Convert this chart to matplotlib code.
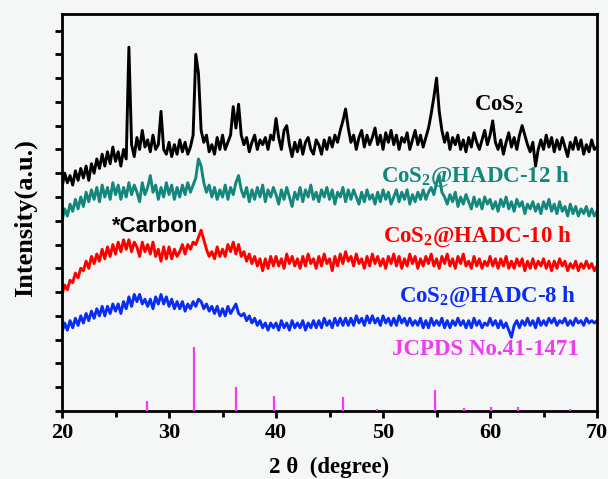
import numpy as np
import matplotlib.pyplot as plt

plt.rcParams['mathtext.fontset'] = 'custom'
plt.rcParams['mathtext.rm'] = 'Liberation Serif:bold'
plt.rcParams['mathtext.bf'] = 'Liberation Serif:bold'

# 2theta grid, 0.25 degree steps from 20 to 70
two_theta = np.arange(20, 70.001, 0.25)

# stacked intensities (a.u.)
cos2 = [
    9.4, 10.0, 9.6, 9.9, 9.5, 10.1, 9.7, 10.2, 9.8, 10.3, 9.7, 10.4,
    10.0, 10.6, 10.2, 10.8, 10.3, 10.9, 10.4, 11.1, 10.5, 10.9, 10.3, 11.0,
    10.6, 15.3, 11.2, 10.7, 11.5, 11.0, 11.8, 11.1, 11.4, 10.9, 11.6, 11.0,
    11.2, 12.6, 11.0, 10.8, 11.3, 10.7, 11.2, 10.8, 11.4, 10.9, 11.3, 10.8,
    11.1, 11.6, 15.0, 14.2, 11.8, 11.3, 11.6, 10.9, 11.2, 10.8, 11.5, 11.0,
    11.6, 11.0, 11.3, 11.6, 12.8, 11.9, 12.9, 11.6, 11.2, 11.5, 10.9, 11.3,
    11.6, 11.0, 11.4, 11.2, 11.5, 11.0, 11.6, 11.4, 12.3, 11.5, 11.0, 11.8,
    12.0, 11.2, 10.7, 11.3, 10.9, 11.4, 10.8, 11.3, 11.5, 11.0, 10.8, 11.4,
    11.2, 10.8, 11.4, 11.0, 11.5, 11.1, 11.6, 11.3, 11.8, 12.2, 12.7, 11.9,
    11.3, 11.6, 11.0, 11.5, 11.8, 11.1, 11.6, 11.2, 11.5, 11.9, 11.2, 11.6,
    11.0, 11.7, 11.3, 11.8, 11.2, 11.6, 11.0, 11.5, 11.3, 11.7, 11.0, 11.4,
    11.8, 11.2, 11.6, 11.1, 11.5, 11.9, 12.5, 13.2, 14.0, 12.6, 11.8, 11.3,
    11.7, 11.0, 11.5, 11.2, 11.6, 11.0, 11.4, 10.9, 11.5, 11.1, 11.7, 11.3,
    11.0, 11.4, 11.8, 11.2, 11.6, 12.2, 11.3, 11.0, 11.4, 10.8, 11.3, 11.7,
    11.1, 11.5, 11.0, 11.6, 12.0, 11.6, 11.2, 10.9, 11.3, 10.3, 11.0, 11.4,
    11.0, 11.6, 11.1, 11.5, 10.9, 11.4, 11.0, 11.5, 11.1, 10.7, 11.3, 11.0,
    11.5, 11.0, 11.4, 10.8, 11.2, 10.9, 11.4, 11.0, 11.1,
]
hadc_12h = [
    8.0, 8.5, 8.2, 8.7, 8.4, 8.9, 8.5, 9.0, 8.6, 9.2, 8.8, 9.3,
    8.9, 9.4, 8.8, 9.5, 9.0, 9.4, 8.9, 9.6, 9.1, 9.5, 8.9, 9.4,
    9.0, 9.6, 9.1, 9.5, 9.2, 8.8, 9.6, 9.1, 9.4, 9.9, 9.2, 9.5,
    8.9, 9.4, 9.0, 9.6, 9.1, 9.5, 8.9, 9.4, 9.0, 9.5, 9.1, 9.6,
    9.2, 9.5, 9.8, 10.6, 10.3, 9.6, 9.2, 9.5, 9.0, 9.4, 8.9, 9.3,
    9.0, 9.5, 8.9, 9.4, 9.1, 9.6, 9.9, 9.3, 9.0, 9.4, 8.8, 9.3,
    8.9, 9.4, 9.0, 9.5, 8.8, 9.3, 9.0, 9.4, 9.1, 8.7, 9.3, 8.9,
    9.4, 9.0, 8.6, 9.2, 8.9, 9.4, 8.8, 9.3, 9.0, 9.5, 8.9, 9.2,
    8.8, 9.3, 9.0, 9.4, 8.9, 9.3, 8.7, 9.2, 9.0, 9.4, 8.8, 9.3,
    8.9, 9.3, 9.0, 8.7, 9.2, 8.8, 9.3, 8.9, 9.1, 8.7, 9.2, 8.8,
    9.3, 8.9, 9.2, 8.7, 9.0, 9.3, 8.8, 9.2, 8.9, 9.3, 8.7, 9.1,
    8.8, 9.2, 8.9, 9.3, 8.9, 9.2, 9.4, 9.1, 9.6, 9.9, 9.2, 9.0,
    8.7, 9.1, 8.8, 9.2, 8.6, 9.0, 8.7, 9.1, 8.8, 8.5, 9.0, 8.6,
    8.9, 8.5, 9.0, 8.7, 8.9, 8.5, 8.8, 8.4, 8.9, 8.6, 9.0, 8.5,
    8.8, 8.4, 8.9, 8.6, 8.8, 8.3, 8.7, 8.5, 8.8, 8.4, 8.7, 8.3,
    8.8, 8.5, 8.9, 8.4, 8.7, 8.3, 8.8, 8.4, 8.6, 8.2, 8.7, 8.3,
    8.6, 8.2, 8.5, 8.3, 8.6, 8.2, 8.5, 8.2, 8.4,
]
hadc_10h = [
    4.9, 5.3, 5.1, 5.5, 5.4, 5.8, 5.6, 6.0, 5.9, 6.3, 6.0, 6.5,
    6.2, 6.6, 6.3, 6.8, 6.4, 6.9, 6.5, 7.0, 6.6, 7.1, 6.7, 7.2,
    6.8, 7.2, 6.7, 7.1, 6.9, 6.5, 7.1, 6.7, 7.0, 6.6, 7.1, 6.5,
    6.8, 6.3, 6.9, 6.4, 6.9, 6.4, 6.8, 6.5, 6.7, 7.0, 6.6, 7.0,
    6.8, 7.1, 7.0, 7.3, 7.6, 7.2, 6.8, 6.5, 6.7, 6.4, 6.9, 6.5,
    6.8, 6.5, 7.0, 6.7, 7.1, 6.6, 7.0, 6.5, 6.7, 6.3, 6.6, 6.2,
    6.5, 6.1, 6.4, 5.9, 6.4, 6.0, 6.5, 6.1, 6.5, 6.1, 6.4, 6.0,
    6.6, 6.2, 6.5, 6.1, 6.4, 6.0, 6.5, 6.1, 6.6, 6.2, 6.4, 6.0,
    6.5, 6.1, 6.6, 6.2, 6.4, 5.9, 6.5, 6.1, 6.6, 6.2, 6.7, 6.3,
    6.5, 6.1, 6.6, 6.2, 6.4, 6.0, 6.5, 6.1, 6.6, 6.2, 6.5, 6.1,
    6.4, 6.0, 6.5, 6.2, 6.6, 6.1, 6.5, 6.0, 6.4, 6.1, 6.6, 6.2,
    6.5, 6.0, 6.4, 6.1, 6.5, 6.2, 6.6, 6.1, 6.4, 6.0, 6.5, 6.2,
    6.6, 6.1, 6.4, 6.0, 6.5, 6.2, 6.6, 6.1, 6.3, 6.0, 6.5, 6.1,
    6.4, 6.0, 6.3, 6.1, 6.5, 6.1, 6.4, 6.0, 6.4, 6.1, 6.5, 6.0,
    6.3, 6.0, 6.4, 6.1, 6.4, 5.9, 6.3, 6.0, 6.4, 6.0, 6.3, 6.1,
    6.4, 6.0, 6.3, 5.9, 6.3, 6.0, 6.4, 6.1, 6.3, 5.9, 6.2, 6.0,
    6.3, 5.9, 6.2, 6.0, 6.3, 6.0, 6.2, 5.9, 6.1,
]
hadc_8h = [
    3.3, 3.7, 3.4, 3.8, 3.5, 3.9, 3.6, 4.0, 3.7, 4.1, 3.8, 4.2,
    3.9, 4.3, 4.0, 4.4, 4.0, 4.4, 4.1, 4.5, 4.2, 4.5, 4.1, 4.6,
    4.3, 4.8, 4.4, 4.9, 4.6, 4.9, 4.5, 4.7, 4.4, 4.7, 4.3, 4.8,
    4.5, 4.9, 4.5, 4.8, 4.4, 4.7, 4.3, 4.6, 4.3, 4.6, 4.2, 4.5,
    4.3, 4.6, 4.4, 4.7, 4.6, 4.3, 4.5, 4.2, 4.4, 4.1, 4.4, 4.0,
    4.3, 4.0, 4.4, 4.1, 4.3, 4.5, 4.1, 4.0, 4.1, 3.8, 4.0, 3.7,
    3.9, 3.6, 3.8, 3.5, 3.7, 3.4, 3.7, 3.5, 3.7, 3.4, 3.8, 3.5,
    3.7, 3.4, 3.8, 3.5, 3.7, 3.5, 3.8, 3.4, 3.7, 3.5, 3.8, 3.5,
    3.8, 3.5, 3.9, 3.6, 3.8, 3.5, 3.9, 3.6, 3.9, 3.6, 3.9, 3.6,
    3.9, 3.6, 4.0, 3.7, 3.9, 3.6, 4.0, 3.7, 4.0, 3.7, 3.9, 3.6,
    4.0, 3.7, 3.9, 3.6, 3.9, 3.6, 4.0, 3.7, 3.9, 3.6, 3.9, 3.6,
    3.8, 3.6, 3.9, 3.5, 3.8, 3.5, 3.9, 3.6, 3.8, 3.6, 3.9, 3.5,
    3.8, 3.5, 3.8, 3.6, 3.9, 3.6, 3.8, 3.5, 3.8, 3.5, 3.9, 3.6,
    3.8, 3.5, 3.7, 3.6, 3.9, 3.6, 3.8, 3.5, 3.8, 3.5, 3.7, 3.4,
    3.1, 3.6, 3.8, 3.5, 3.8, 3.6, 3.9, 3.6, 3.8, 3.5, 3.9, 3.6,
    3.8, 3.6, 3.9, 3.7, 3.9, 3.6, 3.8, 3.7, 3.9, 3.6, 3.8, 3.6,
    3.9, 3.7, 3.8, 3.6, 3.9, 3.7, 3.8, 3.7, 3.8,
]

# JCPDS No.41-1471 reference lines
jcpds_pos = [27.9, 32.3, 36.3, 39.8, 46.3, 49.4, 54.9, 57.6, 60.1, 62.6, 67.5]
jcpds_int = [0.42, 2.7, 1.0, 0.63, 0.59, 0.08, 0.88, 0.13, 0.17, 0.17, 0.08]

bg = '#f5f7f7'
teal = '#13877c'
pink = '#f03cf0'
serif = ['Liberation Serif', 'DejaVu Serif']

fig = plt.figure(figsize=(6.08, 4.79), dpi=100, facecolor=bg)
ax = fig.add_axes([0.102, 0.142, 0.880, 0.829], facecolor=bg)

ax.plot(two_theta, cos2, color='black', lw=2.1)
ax.plot(two_theta, hadc_12h, color=teal, lw=2.1)
ax.plot(two_theta, hadc_10h, color='#ff0000', lw=2.1)
ax.plot(two_theta, hadc_8h, color='#0a2cf5', lw=2.1)
ax.vlines(jcpds_pos, 0, jcpds_int, color=pink, lw=1.6, zorder=5)

ax.set_xlim(20, 70)
ax.set_ylim(0, 16.7)
ax.set_xticks([20, 30, 40, 50, 60, 70])
ax.set_xticks([25, 35, 45, 55, 65], minor=True)
ax.set_yticks(np.arange(0, 17, 1))
ax.set_yticklabels([])
ax.tick_params(axis='both', which='major', direction='out', width=2, length=5)
ax.tick_params(axis='x', which='minor', direction='out', width=2, length=4)
for s in ax.spines.values():
    s.set_linewidth(2)

for lab in ax.get_xticklabels():
    lab.set_family(serif)
    lab.set_fontweight('bold')
    lab.set_fontsize(16)

ax.set_xlabel('2 θ  (degree)', family=serif, fontweight='bold', fontsize=16.5, labelpad=10)
ax.set_ylabel('Intensity(a.u.)', family=serif, fontweight='bold', fontsize=19)
ax.yaxis.set_label_coords(-0.047, 0.486)

lab_kw = dict(family=serif, fontweight='bold', fontsize=16.5, ha='center', va='center')
ax.text(60.8, 12.9, 'CoS$_\\mathbf{2}$', color='black', **lab_kw)
ax.text(58.6, 9.85, 'CoS$_\\mathbf{2}$@HADC-12 h', color=teal, **lab_kw)
ax.text(58.8, 7.33, 'CoS$_\\mathbf{2}$@HADC-10 h', color='#ff0000', **lab_kw)
ax.text(59.8, 4.8, 'CoS$_\\mathbf{2}$@HADC-8 h', color='#0a2cf5', **lab_kw)
ax.text(59.6, 2.57, 'JCPDS No.41-1471', color=pink, **lab_kw)
ax.text(24.7, 7.75, '*Carbon', color='black', family=['Liberation Sans', 'DejaVu Sans'],
        fontweight='bold', fontsize=16, va='center')

fig.savefig('out.png', dpi=100, facecolor=bg)
